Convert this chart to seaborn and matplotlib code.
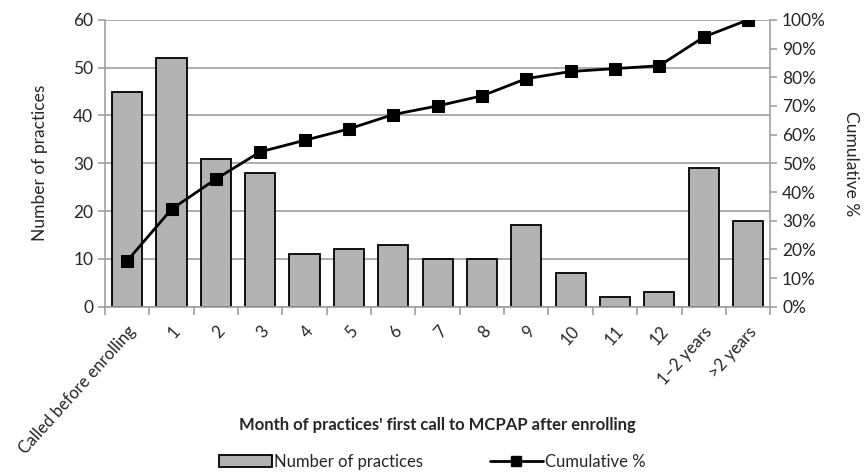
import numpy as np
import pandas as pd
import matplotlib
matplotlib.use('Agg')
import matplotlib.pyplot as plt
import matplotlib.transforms as mtransforms
import seaborn as sns
from matplotlib.lines import Line2D
from matplotlib.patches import Patch

# data
categories = ['Called before enrolling', '1', '2', '3', '4', '5', '6', '7', '8',
              '9', '10', '11', '12', '1\u20132 years', '>2 years']
practices = [45, 52, 31, 28, 11, 12, 13, 10, 10, 17, 7, 2, 3, 29, 18]
cumulative_pct = [16, 34, 44.5, 54, 58, 62, 67, 70, 73.5, 79.5, 82, 83, 84, 94, 100]

df = pd.DataFrame({'cat': categories, 'n': practices, 'cum': cumulative_pct})
df['pos'] = np.arange(len(df))

sns.set_style('white')
plt.rcParams['font.family'] = ['Lato', 'DejaVu Sans']

fig = plt.figure(figsize=(8.64, 4.72), dpi=100)
ax = fig.add_axes([0.1215, 0.350, 0.770, 0.608])

grid_c = '#a0a0a0'
sns.barplot(data=df, x='cat', y='n', color='#b3b3b3', edgecolor='black',
            linewidth=1.3, width=0.68, saturation=1, ax=ax, zorder=2)
ax.set_ylim(0, 60)
ax.set_xlim(-0.5, len(df) - 0.5)
ax.set_yticks(range(0, 61, 10))
ax.yaxis.grid(True, color=grid_c, linewidth=1.2, zorder=0)
ax.set_axisbelow(True)
ax.set_ylabel('Number of practices', fontsize=12.5, labelpad=18)
ax.set_xlabel("Month of practices' first call to MCPAP after enrolling",
              fontsize=12, fontweight='bold')
ax.xaxis.set_label_coords(0.5, -0.385)
ax.set_xticks(df['pos'])
ax.set_xticklabels(categories, rotation=48, ha='right', rotation_mode='anchor',
                   fontsize=12)
shift = mtransforms.ScaledTranslation(8 / 100, 0, fig.dpi_scale_trans)
for lbl in ax.get_xticklabels():
    lbl.set_transform(lbl.get_transform() + shift)
ax.set_xticks(np.arange(-0.5, len(df), 1), minor=True)
ax.tick_params(axis='x', which='major', length=0, pad=12)
ax.tick_params(axis='x', which='minor', length=6, color=grid_c, width=1.2, direction='out')
ax.tick_params(axis='y', length=5, color=grid_c, width=1.2, direction='out', labelsize=12.5)
ax.tick_params(bottom=True, left=True, which='both')
for s in ['top', 'right']:
    ax.spines[s].set_visible(False)
for s in ['left', 'bottom']:
    ax.spines[s].set_color(grid_c)
    ax.spines[s].set_linewidth(1.2)

ax2 = ax.twinx()
sns.lineplot(data=df, x='pos', y='cum', color='black', linewidth=2, marker='s',
             markersize=8, markeredgecolor='black', ax=ax2, zorder=5)
ax2.set_ylim(0, 100)
ax2.set_yticks(range(0, 101, 10))
ax2.set_yticklabels([f'{v}%' for v in range(0, 101, 10)])
ax2.set_ylabel('Cumulative %', fontsize=12.5, rotation=270, labelpad=24)
ax2.tick_params(axis='y', length=5, color=grid_c, width=1.2, direction='out',
                labelsize=12.5, right=True)
for s in ['top', 'left', 'bottom']:
    ax2.spines[s].set_visible(False)
ax2.spines['right'].set_color(grid_c)
ax2.spines['right'].set_linewidth(1.2)
ax2.set_xlabel('')

handles = [Patch(facecolor='#b3b3b3', edgecolor='black', linewidth=1.3),
           Line2D([0], [0], color='black', linewidth=2, marker='s', markersize=7)]
fig.legend(handles, ['Number of practices', 'Cumulative %'], loc='center',
           bbox_to_anchor=(0.5, 0.022), ncol=2, frameon=False, fontsize=12,
           handlelength=3.2, handletextpad=0.1, columnspacing=4,
           borderpad=0, borderaxespad=0)

fig.savefig('out.png', dpi=100)
